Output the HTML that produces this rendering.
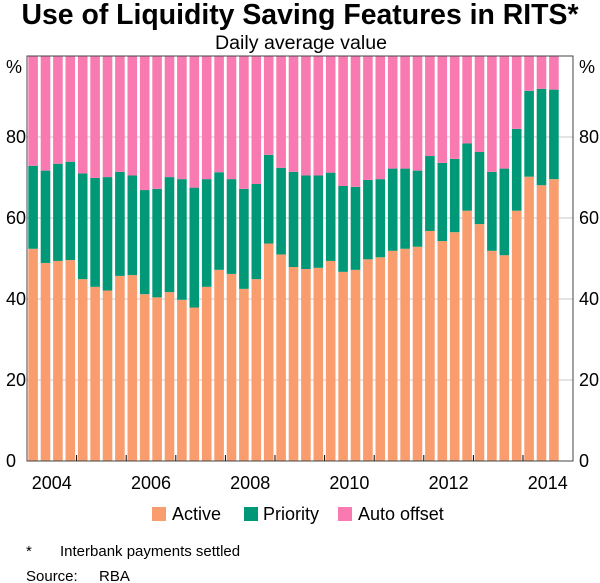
<!DOCTYPE html>
<html><head><meta charset="utf-8"><style>
body{margin:0;background:#fff;}
svg{display:block;font-family:"Liberation Sans",Arial,sans-serif;}
</style></head><body>
<svg id="c" width="600" height="583" viewBox="0 0 600 583">
<text x="300" y="24" text-anchor="middle" font-size="28.5" font-weight="bold" fill="#000" textLength="557" lengthAdjust="spacingAndGlyphs">Use of Liquidity Saving Features in RITS*</text>
<text x="301" y="49" text-anchor="middle" font-size="19" fill="#000" textLength="172" lengthAdjust="spacingAndGlyphs">Daily average value</text>
<g id="grid"></g>
<g id="bars"></g>
<g id="axes"></g>
<g>
<rect x="152" y="507" width="14" height="14" fill="#F99D6E"/>
<text x="172" y="520" font-size="18">Active</text>
<rect x="244" y="507" width="14" height="14" fill="#009877"/>
<text x="263" y="520" font-size="18">Priority</text>
<rect x="338" y="507" width="14" height="14" fill="#F97AB0"/>
<text x="358" y="520" font-size="18">Auto offset</text>
</g>
<text x="26" y="556" font-size="15">*</text>
<text x="60" y="556" font-size="15">Interbank payments settled</text>
<text x="26" y="581" font-size="15">Source:</text>
<text x="99" y="581" font-size="15">RBA</text>
</svg>
<script>
const active=[52.4,48.9,49.4,49.6,44.9,43.0,42.1,45.7,45.9,41.2,40.4,41.7,39.8,37.9,43.0,47.2,46.2,42.5,44.9,53.7,51.0,47.9,47.4,47.7,49.4,46.7,47.2,49.8,50.3,51.9,52.4,52.9,56.8,54.3,56.5,61.8,58.5,51.9,50.8,61.8,70.2,68.1,69.6];
const priorityTop=[72.9,71.7,73.4,73.9,71.0,69.9,70.1,71.4,70.5,66.9,67.2,70.1,69.6,67.5,69.6,71.3,69.6,67.2,68.4,75.6,72.4,71.4,70.5,70.5,71.2,67.9,67.7,69.4,69.6,72.2,72.2,71.7,75.3,73.6,74.6,78.4,76.3,71.4,72.2,82.0,91.4,91.9,91.7];
const priority=priorityTop.map((t,i)=>+(t-active[i]).toFixed(1));
const autoOffset=priorityTop.map(t=>+(100-t).toFixed(1));
const yTicks=[0,20,40,60,80];
const years=["2004","2006","2008","2010","2012","2014"];
const NS="http://www.w3.org/2000/svg";
const L=27,R=573,T=56,B=461,slot=12.4;
const y=v=>B-(B-T)*v/100;
const xq=i=>L+i*slot;
function mk(tag,attrs,parent){const e=document.createElementNS(NS,tag);for(const k in attrs)e.setAttribute(k,attrs[k]);parent.appendChild(e);return e;}
const grid=document.getElementById('grid'),bars=document.getElementById('bars'),axes=document.getElementById('axes');
yTicks.forEach(v=>{if(v>0){const g=mk('line',{x1:L,x2:R,y1:y(v),y2:y(v),stroke:'#c8c8c8','stroke-width':1},grid);

}
const a=mk('text',{x:6,y:y(v)+6,'font-size':18},axes);a.textContent=v;


const b=mk('text',{x:579,y:y(v)+6,'font-size':18},axes);b.textContent=v;

});
[['%',6],['%',579]].forEach((p,k)=>{const t=mk('text',{x:p[1],y:73,'font-size':18},axes);t.textContent=p[0];

});
active.forEach((a,i)=>{const x=xq(i)+1.3,w=9.6;
const segs=[[0,a,'#F99D6E','active'],[a,a+priority[i],'#009877','priority'],[a+priority[i],a+priority[i]+autoOffset[i],'#F97AB0','auto-offset']];
segs.forEach(s=>{const r=mk('rect',{x:x,y:y(s[1]),width:w,height:y(s[0])-y(s[1]),fill:s[2]},bars);

});});
const fr=mk('rect',{x:L,y:T,width:R-L,height:B-T,fill:'none',stroke:'#444','stroke-width':1},axes);


for(let k=1;k<11;k++){const tx=xq(k*4);const t=mk('line',{x1:tx,x2:tx,y1:B,y2:B-6,stroke:'#000','stroke-width':1},axes);

}
years.forEach((yr,j)=>{const t=mk('text',{x:xq(j*8)+slot*2,y:489,'font-size':18,'text-anchor':'middle'},axes);t.textContent=yr;

});
</script>
</body></html>
